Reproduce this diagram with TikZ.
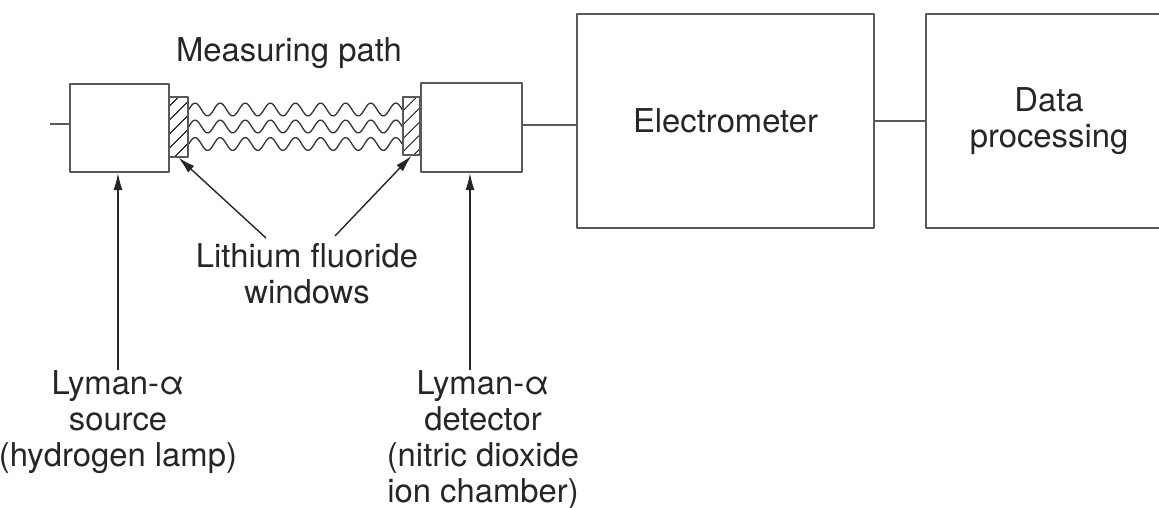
\documentclass[tikz,border=0pt]{standalone}
\usepackage{fontspec}
\setmainfont{TeX Gyre Heros}
\usetikzlibrary{arrows.meta,patterns.meta}
\begin{document}
\begin{tikzpicture}[
			x=1pt, y=-1pt,
			line join=round,
			blk/.style={draw=black!65, line width=2pt, inner sep=0pt},
			win/.style={draw=black!65, line width=1.6pt, inner sep=0pt,
				pattern={Lines[angle=45,distance=10.5pt,line width=1.3pt]}, pattern color=black!80},
			wave/.style={black!80, line width=1.3pt, smooth},
			wire/.style={black!65, line width=2pt},
			arr/.style={black!85, line width=1.4pt, -{Latex[length=17pt,width=9pt]}},
			txt/.style={text=black!85, font=\fontsize{32.8}{36}\selectfont, align=center, inner sep=0pt}
			]
			\clip (0,0) rectangle (1159,508);
			\node[blk, minimum width=99pt, minimum height=88pt] (src) at (119.5,128) {};
			\foreach \c in {109.5,126.5,144}
				\draw[wave] plot[domain=188.8:402.2, samples=120] (\x, {\c-6.5*sin(14.343*(\x-188.8))});
			\node[win, minimum width=19pt, minimum height=60pt] (winL) at (178.5,127) {};
			\node[win, minimum width=17pt, minimum height=58pt] (winR) at (411.5,126) {};
			\node[blk, minimum width=101pt, minimum height=89pt] (det) at (471.5,127.5) {};
			\node[blk, txt, minimum width=297pt, minimum height=214pt] (elec) at (725.5,121) {Electrometer};
			\node[blk, txt, minimum width=246pt, minimum height=214pt] (data) at (1049,121) {Data\\processing};
			\coordinate (lead) at (50,124);
			\draw[wire] (lead) -- (lead -| src.west);
			\draw[wire] ([yshift=2pt]det.east) -- ([yshift=2pt]det.east -| elec.west);
			\draw[wire] (elec.east) -- (data.west);
			\node[txt, anchor=base] (path) at (289,62) {Measuring path};
			\node[txt, anchor=north] (lif) at (307,243) {Lithium fluoride\\windows};
			\node[txt, anchor=north] (srclbl) at (118,370) {Lyman-α\\source\\(hydrogen lamp)};
			\node[txt, anchor=north] (detlbl) at (483,370) {Lyman-α\\detector\\(nitric dioxide\\ion chamber)};
			\draw[arr] (srclbl.north) -- (srclbl.north |- src.south);
			\draw[arr] ([xshift=-13pt]detlbl.north) -- ([xshift=-13pt]detlbl.north |- det.south);
			\draw[arr] ([shift={(-41pt,5pt)}]lif.north) -- (winL.south);
			\draw[arr] ([shift={(28pt,7pt)}]lif.north) -- (winR.south);
		\end{tikzpicture}
\end{document}
